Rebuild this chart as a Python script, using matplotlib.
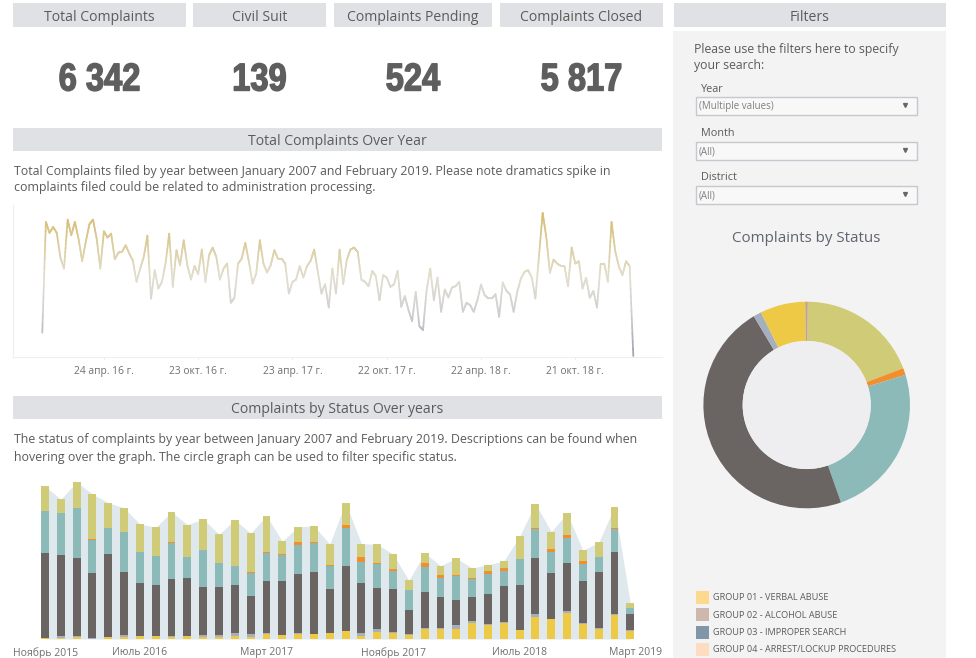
import matplotlib
matplotlib.use('Agg')
import matplotlib.pyplot as plt
import matplotlib.dates as mdates
import numpy as np
import pandas as pd
from matplotlib.collections import LineCollection
from matplotlib.colors import LinearSegmentedColormap
from matplotlib.patches import Rectangle, Circle
from matplotlib.patheffects import AbstractPathEffect
from matplotlib.transforms import Affine2D, ScaledTranslation

plt.rcParams['font.family'] = ['Open Sans', 'DejaVu Sans']

W, H = 976, 658
TEXT = '#5b5b5b'
HEAD_BG = '#e0e1e5'

# KPI row
kpi_names = ['Total Complaints', 'Civil Suit', 'Complaints Pending', 'Complaints Closed']
kpi_values = ['6 342', '139', '524', '5 817']

# weekly line, no value axis in the picture so values are read on the picture's scale
line_start = '2015-12-27'
line_values = [
    72, 405, 372, 390, 372, 298, 265, 412, 365, 405,
    355, 287, 345, 398, 412, 355, 265, 377, 358, 370,
    293, 313, 315, 335, 310, 288, 225, 265, 300, 364,
    175, 260, 205, 225, 280, 370, 210, 320, 275, 350,
    275, 232, 273, 248, 322, 225, 305, 328, 300, 232,
    265, 280, 162, 177, 280, 295, 342, 285, 220, 250,
    350, 280, 253, 275, 320, 295, 295, 280, 190, 225,
    232, 272, 238, 272, 288, 322, 255, 190, 218, 148,
    265, 190, 322, 218, 292, 322, 328, 315, 232, 225,
    212, 258, 242, 170, 245, 238, 210, 218, 258, 150,
    182, 140, 107, 195, 92, 80, 200, 265, 170, 238,
    135, 202, 178, 208, 212, 225, 135, 162, 155, 135,
    170, 217, 185, 175, 175, 188, 120, 223, 198, 188,
    135, 195, 235, 255, 260, 238, 175, 305, 432, 360,
    252, 292, 280, 273, 273, 212, 328, 280, 287, 205,
    237, 177, 198, 148, 280, 280, 225, 405, 318, 272,
    245, 287, 272, 2,
]
line_tick_dates = ['2016-04-24', '2016-10-23', '2017-04-23', '2017-10-22', '2018-04-22', '2018-10-21']
line_tick_labels = ['24 апр. 16 г.', '23 окт. 16 г.', '23 апр. 17 г.', '22 окт. 17 г.', '22 апр. 18 г.', '21 окт. 18 г.']

# monthly stacks, Jan 2016 to Feb 2019, bottom to top
s_yellow = [3, 3, 5, 1, 5, 5, 8, 8, 5, 8, 7, 6,
            9, 7, 14, 13, 16, 14, 18, 23, 10, 20, 18, 13, 29,
            29, 29, 47, 43, 47, 26, 67, 59, 78, 45, 31, 73, 24]
s_blue = [0, 7, 5, 2, 2, 6, 1, 2, 5, 2, 4, 6,
          10, 9, 5, 0, 2, 2, 0, 0, 9, 10, 3, 3, 3,
          3, 13, 7, 2, 5, 0, 7, 2, 6, 2, 3, 3, 3]
s_dark = [256, 242, 234, 196, 248, 191, 158, 152, 171, 173, 146, 145,
          143, 114, 154, 160, 178, 186, 131, 197, 148, 124, 128, 70, 109,
          93, 76, 71, 90, 108, 136, 170, 138, 143, 127, 168, 186, 49]
s_teal = [125, 127, 150, 99, 79, 118, 95, 87, 106, 63, 110, 71,
          58, 69, 86, 79, 87, 87, 71, 114, 65, 71, 56, 60, 76,
          59, 70, 55, 61, 45, 79, 85, 63, 77, 52, 43, 67, 17]
s_orange = [0, 0, 0, 2, 0, 0, 0, 1, 3, 1, 0, 1,
            0, 3, 2, 3, 7, 2, 3, 8, 13, 2, 6, 0, 10,
            8, 4, 3, 8, 9, 0, 5, 8, 7, 8, 2, 5, 0]
s_khaki = [75, 40, 77, 135, 75, 73, 83, 85, 91, 96, 93, 85,
           138, 115, 109, 38, 47, 48, 62, 67, 41, 57, 44, 30, 31,
           28, 50, 30, 19, 20, 67, 72, 52, 66, 32, 43, 63, 14]
bar_tick_pos = [-2, 6, 14, 22, 30, 38]
bar_tick_labels = ['Ноябрь 2015', 'Июль 2016', 'Март 2017', 'Ноябрь 2017', 'Июль 2018', 'Март 2019']

# donut, clockwise from the top
donut_values = [1207, 69, 1543, 2970, 79, 449, 25]
donut_colors = ['#d0cb76', '#f28e2b', '#8cbab9', '#6a6462', '#a5afbd', '#eec945', '#c4a18f']

legend_names = ['GROUP 01 - VERBAL ABUSE', 'GROUP 02 - ALCOHOL ABUSE',
                'GROUP 03 - IMPROPER SEARCH', 'GROUP 04 - ARREST/LOCKUP PROCEDURES']
legend_colors = ['#fdd98f', '#ccb9ab', '#7f97a8', '#fddcc2']

fig = plt.figure(figsize=(W / 100, H / 100), dpi=100, facecolor='white')


class Squeeze(AbstractPathEffect):
    # narrows a text around its centre, there is no condensed heavy font here
    def __init__(self, sx, cx, stroke):
        super().__init__()
        self.sx, self.cx, self.stroke = sx, cx, stroke

    def draw_path(self, renderer, gc, tpath, affine, rgbFace=None):
        a = affine + Affine2D().translate(-self.cx, 0).scale(self.sx, 1).translate(self.cx, 0)
        gc0 = renderer.new_gc()
        gc0.copy_properties(gc)
        gc0.set_linewidth(self.stroke)
        gc0.set_foreground(rgbFace)
        renderer.draw_path(gc0, tpath, a, rgbFace)
        gc0.restore()


def px_axes(x0, y0, x1, y1):
    return fig.add_axes([x0 / W, 1 - y1 / H, (x1 - x0) / W, (y1 - y0) / H])


# page layer in pixel coordinates
bg = fig.add_axes([0, 0, 1, 1])
bg.set_xlim(0, W)
bg.set_ylim(H, 0)
bg.axis('off')


def box(x0, y0, x1, y1, color, edge='none'):
    bg.add_patch(Rectangle((x0, y0), x1 - x0, y1 - y0, facecolor=color, edgecolor=edge, lw=1))


def header(x0, y0, x1, y1, label):
    box(x0, y0, x1, y1, HEAD_BG)
    bg.text((x0 + x1) / 2, (y0 + y1) / 2 + 2.2, label, ha='center', va='center', fontsize=10.1, color=TEXT)


kpi_boxes = [(13, 186), (193, 326), (334, 492), (500, 663)]
for (x0, x1), name, val in zip(kpi_boxes, kpi_names, kpi_values):
    cx = (x0 + x1) / 2
    header(x0, 3, x1, 27, name)
    t = bg.text(cx, 80.5, val, ha='center', va='center', fontsize=28, fontweight='bold',
                color='#5e5e5e', family=['Liberation Sans', 'DejaVu Sans'])
    t.set_path_effects([Squeeze(0.84, cx, 1.0)])

header(13, 128, 662, 151, 'Total Complaints Over Year')
bg.text(14, 171, 'Total Complaints filed by year between January 2007 and February 2019. Please note dramatics spike in',
        va='center', fontsize=8.88, color=TEXT)
bg.text(14, 188, 'complaints filed could be related to administration processing.',
        va='center', fontsize=8.88, color=TEXT)

header(13, 396, 662, 419, 'Complaints by Status Over years')
bg.text(14, 439, 'The status of complaints by year between January 2007 and February 2019. Descriptions can be found when',
        va='center', fontsize=8.88, color=TEXT)
bg.text(14, 457, 'hovering over the graph. The circle graph can be used to filter specific status.',
        va='center', fontsize=8.88, color=TEXT)

# filters panel
box(673, 31, 946, 658, '#f3f3f3')
header(674, 3, 946, 27, 'Filters')
bg.text(694, 49, 'Please use the filters here to specify', va='center', fontsize=8.8, color=TEXT)
bg.text(694, 66, 'your search:', va='center', fontsize=8.8, color=TEXT)
filters = [('Year', '(Multiple values)', 88, 97), ('Month', '(All)', 133, 142), ('District', '(All)', 177, 186)]
for name, val, ly, by in filters:
    bg.text(701, ly + 1, name, va='center', fontsize=7.8, color=TEXT)
    box(696, by, 917, by + 17.5, '#f8f8f8', '#c5c8cf')
    bg.text(699, by + 9.5, val, va='center', fontsize=7.0, color='#808080')
    bg.plot([905], [by + 8], marker='v', ms=2.8, color='#666666', ls='none')
bg.text(806, 238, 'Complaints by Status', ha='center', va='center', fontsize=10.9, color='#5f6470')

for i, (name, col) in enumerate(zip(legend_names, legend_colors)):
    y = 591 + i * 17.3
    box(696, y, 709, y + 13, col)
    bg.text(713, y + 7, name, va='center', fontsize=6.6, color=TEXT)

# line chart, coloured by value
ax_line = px_axes(13, 205, 662, 356.7)
dates = pd.date_range(line_start, periods=len(line_values), freq='7D')
xs = mdates.date2num(dates)
ys = np.array(line_values, dtype=float)
cmap = LinearSegmentedColormap.from_list(
    'tan', [(0, '#a0a0ac'), (0.3, '#cfcfd3'), (0.55, '#e2dfd0'), (1, '#d6bc6e')], N=256)

segs, seg_vals = [], []
for i in range(len(xs) - 1):
    # split each segment so long jumps fade through the colours
    tx = np.linspace(xs[i], xs[i + 1], 13)
    ty = np.linspace(ys[i], ys[i + 1], 13)
    for j in range(12):
        segs.append([(tx[j], ty[j]), (tx[j + 1], ty[j + 1])])
        seg_vals.append((ty[j] + ty[j + 1]) / 2)
lc = LineCollection(segs, array=np.array(seg_vals), cmap=cmap, linewidths=1.25, capstyle='round')
lc.set_clim(0, 432)
ax_line.add_collection(lc)
ax_line.set_xlim(xs[0] - 56.5, xs[-1] + 55.4)
ax_line.set_ylim(0, 456)
ax_line.set_yticks([])
ax_line.set_xticks(mdates.date2num(pd.to_datetime(line_tick_dates)))
ax_line.set_xticklabels(line_tick_labels, fontsize=7.4, color='#6f6f6f')
ax_line.tick_params(axis='x', length=2, color='#eeeeee', pad=4.5)
for side in ['top', 'right']:
    ax_line.spines[side].set_visible(False)
for side in ['left', 'bottom']:
    ax_line.spines[side].set_color('#efefef')

# stacked bars over the total area
ax_bar = px_axes(13, 470, 662, 639)
pos = np.arange(len(s_yellow))
series = [s_yellow, s_blue, s_dark, s_teal, s_orange, s_khaki]
series_colors = ['#eec945', '#a5afbd', '#6a6462', '#8cbab9', '#f28e2b', '#d0cb76']
totals = np.sum(series, axis=0)
ax_bar.fill_between(pos, totals, color='#dfe8ed', lw=0, zorder=1)
bottom = np.zeros(len(pos))
for vals, col in zip(series, series_colors):
    ax_bar.bar(pos, vals, width=0.5, bottom=bottom, color=col, lw=0, zorder=2)
    bottom += np.array(vals)
ax_bar.set_xlim(-2.02, 39)
ax_bar.set_ylim(0, 507)
ax_bar.set_yticks([])
ax_bar.set_xticks(bar_tick_pos)
ax_bar.set_xticklabels(bar_tick_labels, fontsize=7.5, color='#6f6f6f')
ax_bar.tick_params(axis='x', length=0, pad=6)
tick_texts = ax_bar.get_xticklabels()
tick_texts[0].set_ha('left')
tick_texts[-1].set_ha('right')
tick_texts[-1].set_transform(tick_texts[-1].get_transform() + ScaledTranslation(16 / 100, 0, fig.dpi_scale_trans))
for spine in ax_bar.spines.values():
    spine.set_visible(False)
ax_bar.patch.set_alpha(0)

# donut
ax_pie = px_axes(703.4, 301.7, 910, 508.3)
ax_pie.pie(donut_values, colors=donut_colors, startangle=89.4, counterclock=False,
           wedgeprops=dict(width=0.38, lw=0))
ax_pie.add_patch(Circle((0, 0), 0.62, color='#eeeef0', lw=0))
ax_pie.set_xlim(-1, 1)
ax_pie.set_ylim(-1, 1)
ax_pie.patch.set_alpha(0)

fig.savefig('out.png', dpi=100)
